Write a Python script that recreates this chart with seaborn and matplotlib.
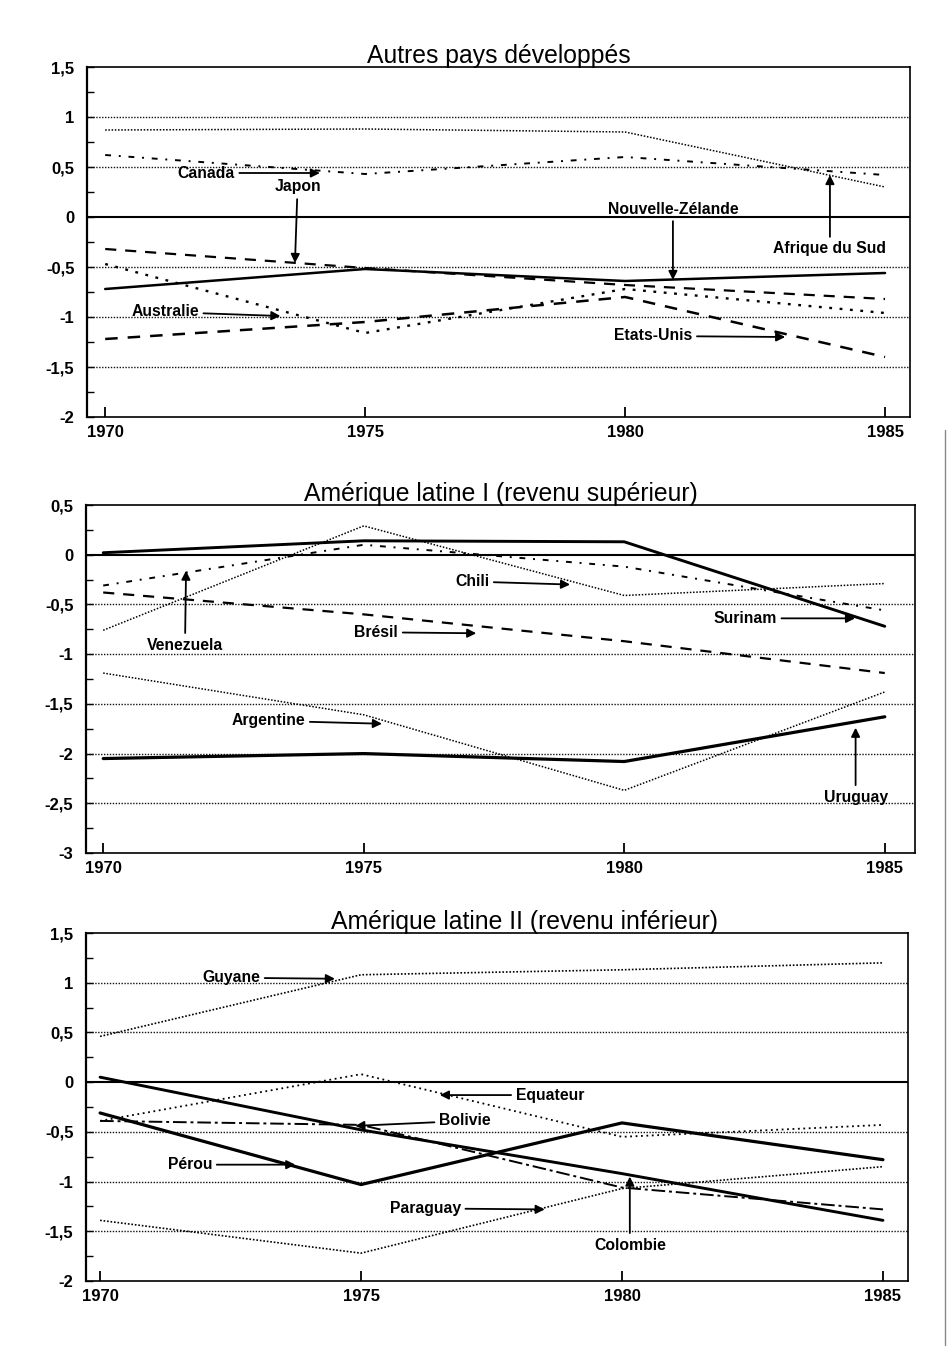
import matplotlib
matplotlib.use("Agg")
import matplotlib.pyplot as plt
import seaborn as sns
import pandas as pd
from matplotlib.ticker import FixedLocator, FuncFormatter
from matplotlib.lines import Line2D

# ---------------- data ----------------
years = [1970, 1975, 1980, 1985]

# Panel 1 : Autres pays développés
afrique_du_sud = [0.87, 0.88, 0.85, 0.30]
canada = [0.62, 0.43, 0.60, 0.42]
japon = [-0.32, -0.51, -0.68, -0.82]
nouvelle_zelande = [-0.72, -0.52, -0.64, -0.56]
australie = [-0.47, -1.16, -0.72, -0.96]
etats_unis = [-1.22, -1.05, -0.80, -1.40]

# Panel 2 : Amérique latine I (revenu supérieur)
surinam = [0.02, 0.14, 0.13, -0.72]
chili = [-0.76, 0.29, -0.41, -0.29]
venezuela = [-0.31, 0.10, -0.12, -0.56]
bresil = [-0.38, -0.60, -0.87, -1.19]
argentine = [-1.19, -1.61, -2.37, -1.38]
uruguay = [-2.05, -2.00, -2.08, -1.63]

# Panel 3 : Amérique latine II (revenu inférieur)
guyane = [0.46, 1.08, 1.13, 1.20]
equateur = [-0.39, 0.08, -0.55, -0.43]
bolivie = [-0.39, -0.43, -1.06, -1.28]
colombie = [0.05, -0.48, -0.92, -1.39]
perou = [-0.31, -1.03, -0.41, -0.78]
paraguay = [-1.39, -1.72, -1.07, -0.85]

titles = ["Autres pays développés",
          "Amérique latine I (revenu supérieur)",
          "Amérique latine II (revenu inférieur)"]
x_tick_labels = ["1970", "1975", "1980", "1985"]

# ---------------- styles ----------------
FINE_DOT = (0, (1, 1.1))
SPARSE_DOT = (0, (1.2, 3.2))
DASH = (0, (5, 4))
DASH_DOT = (0, (3, 4, 1, 4))
DASH_DOT2 = (0, (7, 2, 1.5, 2))

panels = [
    dict(title=titles[0], title_x=0.5, ylim=(-2, 1.5), xlim=(1969.65, 1985.48),
         rect=[87/953, 1-417/1350, 823/953, 350/1350],
         series=[
             ("Afrique du Sud", afrique_du_sud, FINE_DOT, 1.1),
             ("Canada", canada, DASH_DOT, 1.4),
             ("Japon", japon, DASH, 1.6),
             ("Nouvelle-Zélande", nouvelle_zelande, "-", 1.8),
             ("Australie", australie, SPARSE_DOT, 1.7),
             ("Etats-Unis", etats_unis, DASH, 1.8),
         ],
         notes=[
             ("Canada", (1971.94, 0.44), (1974.13, 0.44)),
             ("Japon", (1973.7, 0.30), (1973.65, -0.46)),
             ("Nouvelle-Zélande", (1980.92, 0.08), (1980.92, -0.63)),
             ("Afrique du Sud", (1983.94, -0.32), (1983.94, 0.42)),
             ("Australie", (1971.15, -0.95), (1973.37, -0.99)),
             ("Etats-Unis", (1980.54, -1.19), (1983.08, -1.20)),
         ]),
    dict(title=titles[1], title_x=0.5, ylim=(-3, 0.5), xlim=(1969.67, 1985.58),
         rect=[86/953, 1-853/1350, 829/953, 348/1350],
         series=[
             ("Surinam", surinam, "-", 2.1),
             ("Chili", chili, FINE_DOT, 1.1),
             ("Venezuela", venezuela, DASH_DOT, 1.4),
             ("Brésil", bresil, DASH, 1.6),
             ("Argentine", argentine, FINE_DOT, 1.1),
             ("Uruguay", uruguay, "-", 2.3),
         ],
         notes=[
             ("Chili", (1977.08, -0.27), (1978.96, -0.30)),
             ("Venezuela", (1971.57, -0.91), (1971.59, -0.16)),
             ("Brésil", (1975.24, -0.78), (1977.16, -0.79)),
             ("Surinam", (1982.32, -0.64), (1984.43, -0.64)),
             ("Argentine", (1973.17, -1.67), (1975.35, -1.70)),
             ("Uruguay", (1984.44, -2.44), (1984.44, -1.74)),
         ]),
    dict(title=titles[2], title_x=0.534, ylim=(-2, 1.5), xlim=(1969.73, 1985.48),
         rect=[86/953, 1-1281/1350, 822/953, 348/1350],
         series=[
             ("Guyane", guyane, FINE_DOT, 1.2),
             ("Equateur", equateur, (0, (1, 2)), 1.3),
             ("Bolivie", bolivie, DASH_DOT2, 1.4),
             ("Colombie", colombie, "-", 2.1),
             ("Pérou", perou, "-", 2.3),
             ("Paraguay", paraguay, FINE_DOT, 1.2),
         ],
         notes=[
             ("Guyane", (1972.51, 1.05), (1974.50, 1.04)),
             ("Equateur", (1978.62, -0.13), (1976.51, -0.13)),
             ("Bolivie", (1976.99, -0.39), (1974.89, -0.44)),
             ("Pérou", (1971.72, -0.83), (1973.74, -0.83)),
             ("Paraguay", (1976.23, -1.27), (1978.52, -1.28)),
             ("Colombie", (1980.15, -1.64), (1980.15, -0.95)),
         ]),
]

sns.set_theme(style="white")
plt.rcParams["font.family"] = ["Liberation Sans", "DejaVu Sans"]
plt.rcParams["text.color"] = "black"
NARROW = ["Liberation Sans Narrow", "Liberation Sans", "DejaVu Sans"]

fig = plt.figure(figsize=(9.53, 13.5), dpi=100)
fig.patch.set_facecolor("white")


def fmt(v, pos):
    if abs(v - round(v)) < 1e-9:
        s = str(int(round(v)))
    else:
        s = f"{v:.1f}".replace(".", ",")
    return s


for p in panels:
    ax = fig.add_axes(p["rect"])
    ax.set_facecolor("white")
    lo, hi = p["ylim"]
    majors = [lo + 0.5 * i for i in range(int(round((hi - lo) / 0.5)) + 1)]
    minors = [m + 0.25 for m in majors[:-1]]

    # grid lines (dotted) and zero line
    for m in majors[1:-1]:
        if abs(m) < 1e-9:
            ax.axhline(0, color="black", lw=1.5, zorder=1)
        else:
            ax.axhline(m, color="#111111", lw=1.0, ls=(0, (1, 1.1)), zorder=1)

    for name, vals, ls, lw in p["series"]:
        df = pd.DataFrame({"annee": years, "valeur": vals})
        sns.lineplot(data=df, x="annee", y="valeur", ax=ax, color="black",
                     linestyle=ls, linewidth=lw, zorder=3)

    for label, txt, tip in p["notes"]:
        ax.annotate(label, xy=tip, xytext=txt, ha="center", va="center",
                    fontsize=11.3, fontweight="bold", family=NARROW,
                    color="black",
                    arrowprops=dict(arrowstyle="-|>", color="black", lw=1.3,
                                    mutation_scale=13, shrinkA=1, shrinkB=0),
                    zorder=5)

    ax.set_xlim(*p["xlim"])
    ax.set_ylim(lo, hi)
    ax.xaxis.set_major_locator(FixedLocator(years))
    ax.set_xticklabels(x_tick_labels)
    ax.yaxis.set_major_locator(FixedLocator(majors))
    ax.yaxis.set_minor_locator(FixedLocator(minors))
    ax.yaxis.set_major_formatter(FuncFormatter(fmt))
    ax.tick_params(axis="both", which="both", direction="in", colors="black")
    ax.tick_params(axis="x", which="major", length=7, width=1.3, pad=6,
                   bottom=True, top=False)
    ax.tick_params(axis="y", which="major", length=5, width=1.0, pad=9,
                   left=True, right=False)
    ax.tick_params(axis="y", which="minor", length=5, width=1.0, left=True)
    for lab in ax.get_xticklabels() + ax.get_yticklabels():
        lab.set_fontfamily(NARROW)
        lab.set_fontweight("bold")
        lab.set_fontsize(12)
        lab.set_color("black")
    ax.set_xlabel("")
    ax.set_ylabel("")
    for side, sp in ax.spines.items():
        sp.set_visible(True)
        sp.set_color("black")
        sp.set_linewidth(1.2)
    ax.spines["left"].set_linewidth(1.6)
    ax.set_title(p["title"], fontsize=17.8, pad=3, color="black", x=p["title_x"])

# scanned page border on the right
fig.add_artist(Line2D([945/953, 945/953], [1-430/1350, 1-1345/1350],
                      transform=fig.transFigure, color="#888888", lw=1.0))

fig.savefig("out.png", dpi=100, facecolor="white")
